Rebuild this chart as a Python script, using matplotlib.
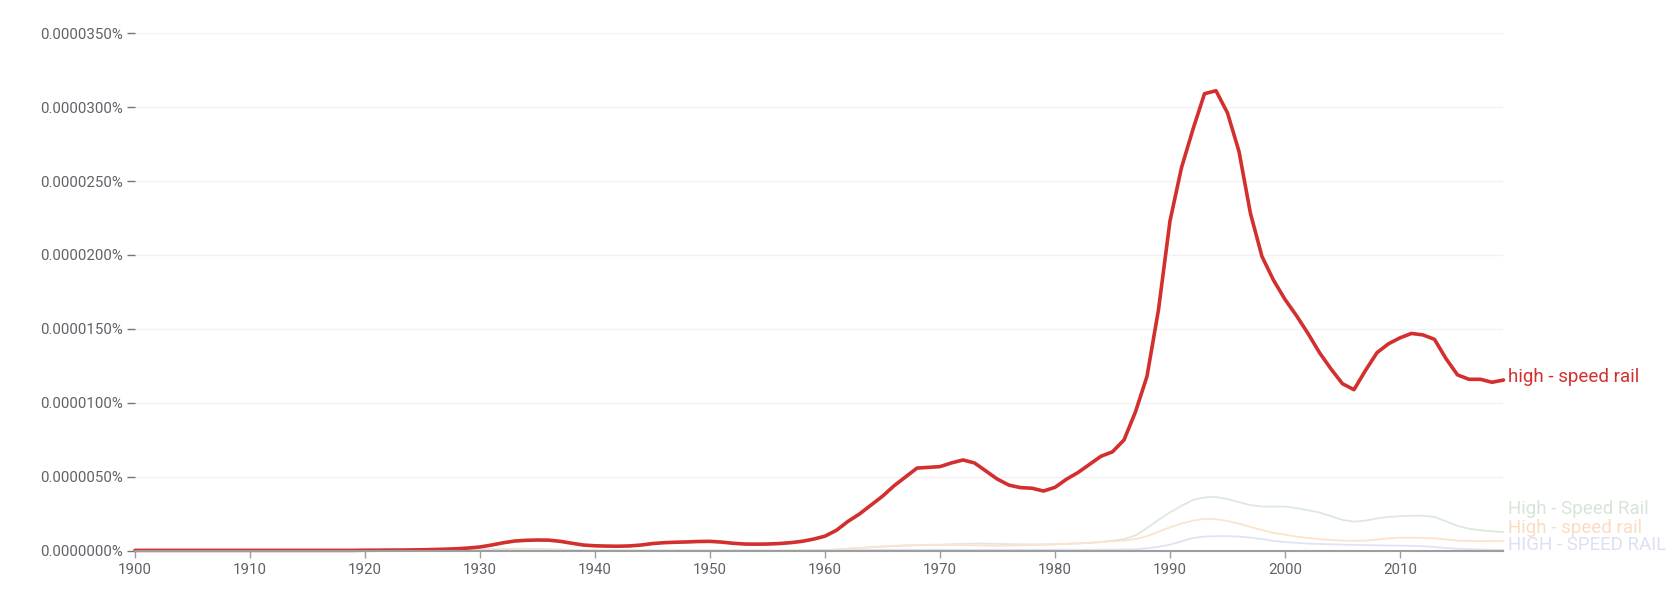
import matplotlib.pyplot as plt
from matplotlib.ticker import FuncFormatter, MultipleLocator

plt.rcParams['font.family'] = ['Roboto', 'DejaVu Sans']

# Años 1900-2019, valores en millonésimas de porcentaje (x 1e-6 %)
years = list(range(1900, 2020))

red = [0.04, 0.04, 0.04, 0.04, 0.04, 0.04, 0.04, 0.04, 0.04, 0.04,
       0.04, 0.04, 0.04, 0.04, 0.04, 0.04, 0.04, 0.04, 0.04, 0.04,
       0.05, 0.05, 0.06, 0.06, 0.07, 0.08, 0.10, 0.12, 0.15, 0.20,
       0.27, 0.40, 0.55, 0.67, 0.72, 0.74, 0.73, 0.65, 0.52, 0.40,
       0.35, 0.33, 0.32, 0.34, 0.40, 0.50, 0.56, 0.59, 0.61, 0.64,
       0.65, 0.60, 0.52, 0.47, 0.46, 0.47, 0.50, 0.56, 0.65, 0.80,
       1.00, 1.40, 2.00, 2.50, 3.10, 3.70, 4.40, 5.00, 5.60, 5.65,
       5.70, 5.95, 6.15, 5.95, 5.40, 4.85, 4.45, 4.28, 4.24, 4.05,
       4.30, 4.85, 5.30, 5.85, 6.40, 6.70, 7.50, 9.40, 11.8, 16.3,
       22.3, 25.9, 28.5, 30.9, 31.1, 29.6, 27.0, 22.8, 19.9, 18.3,
       17.0, 15.9, 14.7, 13.4, 12.3, 11.3, 10.9, 12.2, 13.4, 14.0,
       14.4, 14.7, 14.6, 14.3, 13.0, 11.9, 11.6, 11.6, 11.4, 11.55]

green = [0.02, 0.02, 0.02, 0.02, 0.02, 0.02, 0.02, 0.02, 0.02, 0.02,
         0.02, 0.02, 0.02, 0.02, 0.02, 0.02, 0.02, 0.02, 0.02, 0.02,
         0.02, 0.02, 0.02, 0.02, 0.02, 0.02, 0.02, 0.02, 0.04, 0.06,
         0.10, 0.12, 0.14, 0.15, 0.15, 0.14, 0.12, 0.10, 0.07, 0.05,
         0.04, 0.04, 0.04, 0.04, 0.04, 0.04, 0.04, 0.04, 0.04, 0.04,
         0.04, 0.04, 0.04, 0.04, 0.04, 0.04, 0.04, 0.04, 0.04, 0.05,
         0.06, 0.10, 0.15, 0.20, 0.25, 0.30, 0.33, 0.36, 0.38, 0.40,
         0.42, 0.45, 0.48, 0.50, 0.50, 0.48, 0.46, 0.45, 0.45, 0.45,
         0.45, 0.48, 0.52, 0.55, 0.60, 0.70, 0.80, 1.05, 1.55, 2.10,
         2.60, 3.05, 3.45, 3.62, 3.65, 3.50, 3.30, 3.10, 3.00, 3.00,
         3.00, 2.90, 2.75, 2.60, 2.35, 2.10, 1.98, 2.05, 2.20, 2.30,
         2.35, 2.38, 2.38, 2.30, 2.00, 1.70, 1.50, 1.40, 1.33, 1.28]

orange = [0.02, 0.02, 0.02, 0.02, 0.02, 0.02, 0.02, 0.02, 0.02, 0.02,
          0.02, 0.02, 0.02, 0.02, 0.02, 0.02, 0.02, 0.02, 0.02, 0.02,
          0.02, 0.02, 0.02, 0.02, 0.02, 0.02, 0.02, 0.02, 0.02, 0.02,
          0.03, 0.04, 0.05, 0.06, 0.06, 0.06, 0.05, 0.04, 0.03, 0.02,
          0.02, 0.02, 0.02, 0.02, 0.02, 0.02, 0.02, 0.02, 0.02, 0.02,
          0.02, 0.02, 0.02, 0.02, 0.02, 0.02, 0.02, 0.02, 0.03, 0.04,
          0.05, 0.10, 0.15, 0.20, 0.25, 0.30, 0.35, 0.38, 0.40, 0.42,
          0.42, 0.42, 0.40, 0.38, 0.36, 0.35, 0.36, 0.38, 0.40, 0.42,
          0.45, 0.48, 0.50, 0.55, 0.60, 0.65, 0.70, 0.80, 1.00, 1.30,
          1.60, 1.85, 2.05, 2.17, 2.15, 2.03, 1.85, 1.62, 1.42, 1.22,
          1.10, 0.97, 0.88, 0.80, 0.74, 0.70, 0.68, 0.70, 0.78, 0.85,
          0.90, 0.90, 0.88, 0.85, 0.78, 0.70, 0.68, 0.67, 0.68, 0.68]

blue = [0.01, 0.01, 0.01, 0.01, 0.01, 0.01, 0.01, 0.01, 0.01, 0.01,
        0.01, 0.01, 0.01, 0.01, 0.01, 0.01, 0.01, 0.01, 0.01, 0.01,
        0.01, 0.01, 0.01, 0.01, 0.01, 0.01, 0.01, 0.01, 0.01, 0.01,
        0.01, 0.01, 0.01, 0.01, 0.01, 0.01, 0.01, 0.01, 0.01, 0.01,
        0.01, 0.01, 0.01, 0.01, 0.01, 0.01, 0.01, 0.01, 0.01, 0.01,
        0.01, 0.01, 0.01, 0.01, 0.01, 0.01, 0.01, 0.01, 0.01, 0.02,
        0.03, 0.04, 0.05, 0.06, 0.07, 0.08, 0.08, 0.08, 0.08, 0.08,
        0.08, 0.08, 0.08, 0.08, 0.08, 0.08, 0.08, 0.08, 0.08, 0.08,
        0.08, 0.08, 0.08, 0.08, 0.09, 0.09, 0.10, 0.12, 0.18, 0.28,
        0.42, 0.65, 0.88, 0.97, 1.00, 1.00, 0.97, 0.90, 0.80, 0.68,
        0.60, 0.55, 0.50, 0.47, 0.45, 0.43, 0.41, 0.40, 0.38, 0.37,
        0.36, 0.35, 0.32, 0.27, 0.20, 0.15, 0.12, 0.10, 0.08, 0.07]

# (serie, etiqueta, color de línea, color de texto, grosor, desplazamiento de etiqueta en pt)
series = [
    (green, 'High - Speed Rail', '#dce9de', '#d6e5d8', 1.3, 16.5),
    (orange, 'High - speed rail', '#fde3cc', '#fbdcc2', 1.3, 9.5),
    (blue, 'HIGH - SPEED RAIL', '#dfe3f4', '#dbe0f3', 1.3, 3.5),
    (red, 'high - speed rail', '#d32f2f', '#d32f2f', 2.6, 2.5),
]

fig = plt.figure(figsize=(16.81, 5.95), dpi=100)
ax = fig.add_axes([0.0803, 0.074, 0.8141, 0.8705])

for vals, label, color, tcolor, lw, dy in series:
    ax.plot(years, vals, color=color, lw=lw, solid_capstyle='round',
            solid_joinstyle='round', clip_on=False)
    ax.annotate(label, xy=(years[-1], vals[-1]), xytext=(3.5, dy),
                textcoords='offset points', color=tcolor, fontsize=13.5,
                va='center', ha='left', annotation_clip=False)

ax.set_xlim(1900, 2019)
ax.set_ylim(0, 35)
ax.xaxis.set_major_locator(MultipleLocator(10))
ax.yaxis.set_major_locator(MultipleLocator(5))
ax.yaxis.set_major_formatter(FuncFormatter(lambda v, p: f'{v * 1e-6:.7f}%'))

ax.grid(axis='y', color='#f2f2f2', lw=1)
ax.set_axisbelow(True)
for s in ['top', 'right', 'left']:
    ax.spines[s].set_visible(False)
ax.spines['bottom'].set_color('#9e9e9e')
ax.spines['bottom'].set_linewidth(1.5)

ax.tick_params(axis='y', length=6, width=1, color='#757575', pad=3,
               labelsize=10.8, labelcolor='#5f6368')
ax.tick_params(axis='x', length=5, width=1, color='#9e9e9e', pad=3.5,
               labelsize=10.8, labelcolor='#5f6368')

fig.savefig('out.png', dpi=100, facecolor='white')
